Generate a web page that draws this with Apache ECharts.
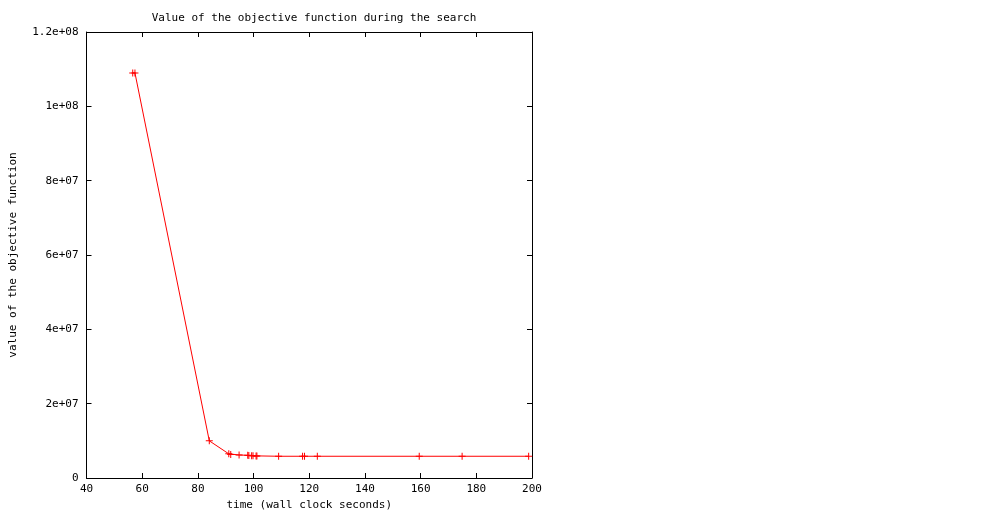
<!DOCTYPE html>
<html>
<head>
<meta charset="utf-8">
<script src="https://cdn.jsdelivr.net/npm/echarts@6/dist/echarts.min.js"></script>
<style>
html,body{margin:0;padding:0;background:#fff;}
#chart{width:992px;height:512px;}
</style>
</head>
<body>
<div id="chart"></div>
<script>
const titleText = "Value of the objective function during the search";
const xName = "time (wall clock seconds)";
const yName = "value of the objective function";
const times = [56.6, 57.4, 84.1, 91.1, 91.8, 94.8, 97.9, 98.3, 99.3, 99.8, 100.9, 101.2, 109.0, 117.6, 118.3, 122.9, 159.5, 174.9, 198.8];
const values = [1.09e8, 1.09e8, 1.0e7, 6.5e6, 6.3e6, 6.2e6, 6.1e6, 6.05e6, 6.0e6, 6.0e6, 5.95e6, 5.9e6, 5.85e6, 5.85e6, 5.85e6, 5.85e6, 5.85e6, 5.85e6, 5.85e6];
const yTickLabels = {0:"0", 20000000:"2e+07", 40000000:"4e+07", 60000000:"6e+07", 80000000:"8e+07", 100000000:"1e+08", 120000000:"1.2e+08"};

const font = "'DejaVu Sans Mono', monospace";
const plus = 'path://M0,3h7v1h-7zM3,0h1v7h-1z';
const chart = echarts.init(document.getElementById('chart'), null, {renderer:'canvas'});
const axisCommon = {
  axisLine:{show:true, onZero:false, lineStyle:{color:'#000', width:1}},
  axisTick:{show:true, inside:true, length:5, lineStyle:{color:'#000', width:1}},
  splitLine:{show:false}
};
chart.setOption({
  animation:false,
  backgroundColor:'#fff',
  title:{text:titleText, left:309, top:8, textAlign:'center',
    textStyle:{fontFamily:font, fontSize:11, fontWeight:'normal', color:'#000'}},
  grid:{left:86.5, right:460, top:32, bottom:34, containLabel:false, outerBoundsMode:'none'},
  xAxis:[
    Object.assign({type:'value', min:40, max:200, interval:20, position:'bottom',
      name:xName, nameLocation:'middle', nameGap:21,
      nameTextStyle:{fontFamily:font, fontSize:11, color:'#000'},
      axisLabel:{fontFamily:font, fontSize:11, color:'#000', margin:6}}, axisCommon),
    Object.assign({type:'value', min:40, max:200, interval:20, position:'top',
      axisLabel:{show:false}}, axisCommon)
  ],
  yAxis:[
    Object.assign({type:'value', min:0, max:1.2e8, interval:2e7, position:'left',
      name:yName, nameLocation:'middle', nameGap:68,
      nameTextStyle:{fontFamily:font, fontSize:11, color:'#000'},
      axisLabel:{fontFamily:font, fontSize:11, color:'#000', margin:8,
        formatter:v => yTickLabels[Math.round(v)] !== undefined ? yTickLabels[Math.round(v)] : String(v)}}, axisCommon),
    Object.assign({type:'value', min:0, max:1.2e8, interval:2e7, position:'right',
      axisLabel:{show:false}}, axisCommon)
  ],
  series:[{
    type:'line',
    data:times.map((t,i)=>[t, values[i]]),
    symbol:plus, symbolSize:7, showAllSymbol:true,
    lineStyle:{color:'#ff0000', width:1},
    itemStyle:{color:'#ff0000'},
    emphasis:{disabled:true}
  }]
});
</script>
</body>
</html>
